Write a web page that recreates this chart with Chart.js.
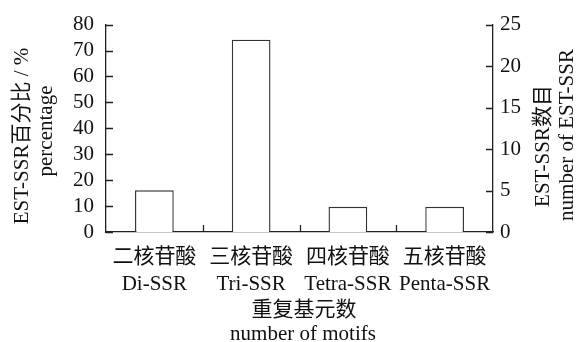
<!DOCTYPE html>
<html>
<head>
<meta charset="utf-8">
<script src="https://cdn.jsdelivr.net/npm/chart.js@4/dist/chart.umd.min.js"></script>
<style>
    html, body { margin: 0; padding: 0; background: #fff; }
    #wrap { width: 578px; height: 342px; }
</style>
</head>
<body>
<div id="wrap"><canvas id="chart" width="578" height="342"></canvas></div>
<script>
// categories (two-line labels)
const categories = [
    ['二核苷酸', 'Di-SSR'],
    ['三核苷酸', 'Tri-SSR'],
    ['四核苷酸', 'Tetra-SSR'],
    ['五核苷酸', 'Penta-SSR']
];
// EST-SSR percentage per motif type
const percentValues = [16.1, 74.2, 9.7, 9.7];
// axis ranges
const leftTicks = { min: 0, max: 80, step: 10 };
const rightTicks = { min: 0, max: 25, step: 5 };
// titles
const leftTitle = ['EST-SSR百分比 / %', 'percentage'];
const rightTitle = ['EST-SSR数目', 'number of EST-SSR'];
const bottomTitle = ['重复基元数', 'number of motifs'];

const FONT = '"Liberation Serif", "Noto Sans CJK SC", serif';
const SIZE = 21;
const INK = '#111';
const AXIS = '#222';

// inward ticks + custom axis titles
const axisDecor = {
    id: 'axisDecor',
    afterDraw(chart) {
        const ctx = chart.ctx;
        const { x, y, y1 } = chart.scales;
        const area = chart.chartArea;
        ctx.save();
        ctx.strokeStyle = AXIS;
        ctx.lineWidth = 1.3;
        ctx.beginPath();
        y.ticks.forEach(t => {
            const py = Math.round(y.getPixelForValue(t.value)) + 0.5;
            ctx.moveTo(area.left, py);
            ctx.lineTo(area.left + 7, py);
        });
        y1.ticks.forEach(t => {
            const py = Math.round(y1.getPixelForValue(t.value)) + 0.5;
            ctx.moveTo(area.right, py);
            ctx.lineTo(area.right - 7, py);
        });
        for (let i = 0; i < categories.length - 1; i++) {
            const px = Math.round((x.getPixelForValue(i) + x.getPixelForValue(i + 1)) / 2) + 0.5;
            ctx.moveTo(px, area.bottom);
            ctx.lineTo(px, area.bottom - 7);
        }
        ctx.stroke();

        ctx.fillStyle = INK;
        ctx.font = SIZE + 'px ' + FONT;
        ctx.textAlign = 'center';
        ctx.textBaseline = 'middle';

        // bottom title
        ctx.fillText(bottomTitle[0], 304, 310);
        ctx.fillText(bottomTitle[1], 303, 334);

        const vText = (txt, cx, cy) => {
            ctx.save();
            ctx.translate(cx, cy);
            ctx.rotate(-Math.PI / 2);
            ctx.fillText(txt, 0, 0);
            ctx.restore();
        };
        // left title (rotated counter-clockwise)
        vText(leftTitle[0], 22, 136);
        vText(leftTitle[1], 46, 131);
        // right title (also counter-clockwise)
        vText(rightTitle[0], 543, 146);
        vText(rightTitle[1], 567, 135);

        ctx.restore();
    }
};

new Chart(document.getElementById('chart'), {
    type: 'bar',
    data: {
        labels: categories,
        datasets: [{
            label: 'percentage',
            data: percentValues,
            yAxisID: 'y',
            backgroundColor: '#fff',
            borderColor: '#333',
            borderWidth: 1.4,
            categoryPercentage: 1,
            barPercentage: 0.4
        }]
    },
    options: {
        responsive: false,
        animation: false,
        devicePixelRatio: 1,
        layout: { padding: { top: 24, right: 0, bottom: 0, left: 0 } },
        plugins: {
            legend: { display: false },
            tooltip: { enabled: false }
        },
        scales: {
            x: {
                grid: { display: false, drawTicks: false },
                border: { display: true, color: AXIS, width: 1.3 },
                ticks: {
                    color: INK,
                    padding: 12,
                    font: { family: FONT, size: SIZE, lineHeight: 1.29 },
                    maxRotation: 0,
                    autoSkip: false
                },
                afterFit(scale) { scale.height = 110; }
            },
            y: {
                position: 'left',
                min: leftTicks.min,
                max: leftTicks.max,
                grid: { display: false, drawTicks: false },
                border: { display: true, color: AXIS, width: 1.3 },
                ticks: {
                    stepSize: leftTicks.step,
                    autoSkip: false,
                    color: INK,
                    padding: 12,
                    font: { family: FONT, size: SIZE }
                },
                afterFit(scale) { scale.width = 106; }
            },
            y1: {
                position: 'right',
                min: rightTicks.min,
                max: rightTicks.max,
                grid: { display: false, drawTicks: false },
                border: { display: true, color: AXIS, width: 1.3 },
                ticks: {
                    stepSize: rightTicks.step,
                    autoSkip: false,
                    color: INK,
                    padding: 7,
                    font: { family: FONT, size: SIZE }
                },
                afterFit(scale) { scale.width = 85; }
            }
        }
    },
    plugins: [axisDecor]
});
</script>
</body>
</html>
